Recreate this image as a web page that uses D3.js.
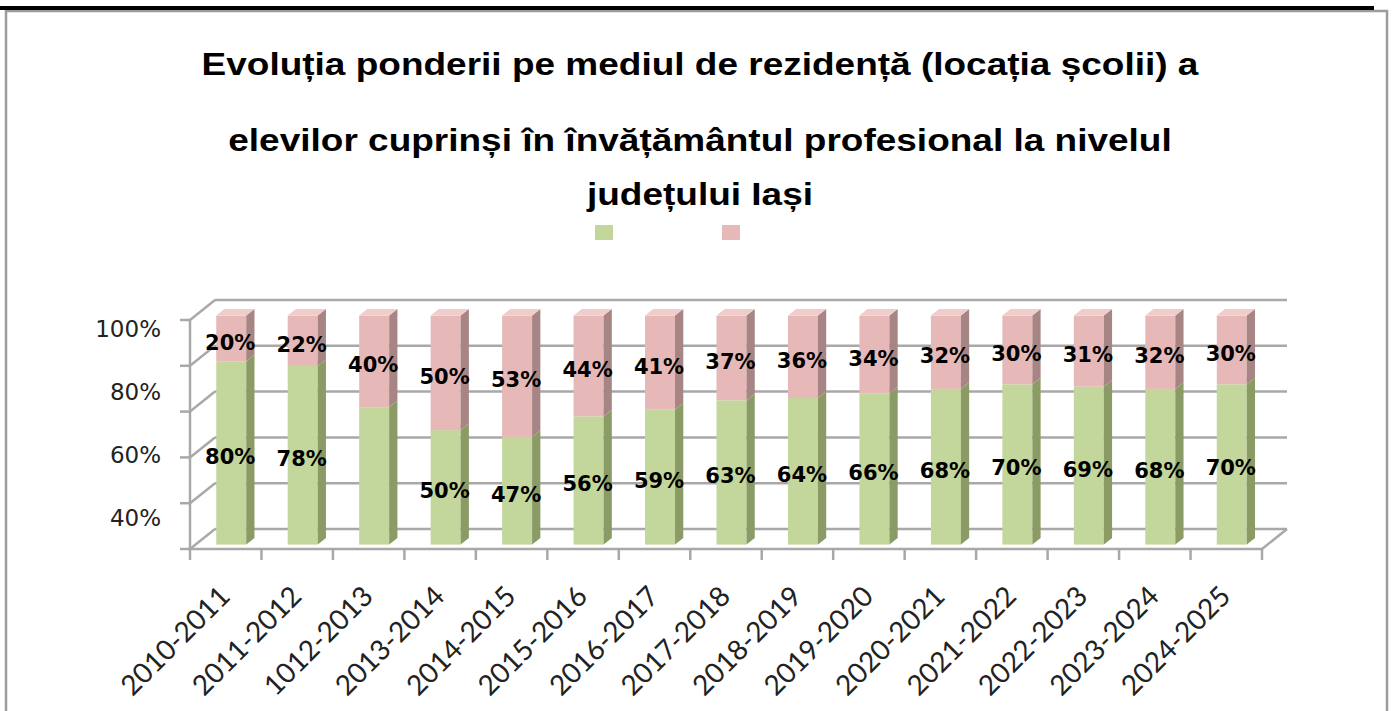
<!DOCTYPE html>
<html>
<head>
<meta charset="utf-8">
<title>Evolutia ponderii</title>
<script src="https://cdnjs.cloudflare.com/ajax/libs/d3/7.8.5/d3.min.js"></script>
<style>
	body { margin: 0; background: #fff; }
	svg { display: block; }
	.title { font-family: "Liberation Sans", Arial, sans-serif; font-weight: bold; font-size: 37px; fill: #000; }
	.ylab { font-family: "DejaVu Sans", Verdana, sans-serif; font-size: 23px; fill: #222; }
	.xlab { font-family: Lato, "Open Sans", sans-serif; font-size: 28px; fill: #222; }
	.dlab { font-family: "DejaVu Sans", Verdana, sans-serif; font-weight: bold; font-size: 21px; fill: #000; }
</style>
</head>
<body>
<svg width="1392" height="711"></svg>
<script>

// data
var categories = ["2010-2011", "2011-2012", "1012-2013", "2013-2014", "2014-2015", "2015-2016", "2016-2017",
	"2017-2018", "2018-2019", "2019-2020", "2020-2021", "2021-2022", "2022-2023", "2023-2024", "2024-2025"];
var share1 = [80, 78, 60, 50, 47, 56, 59, 63, 64, 66, 68, 70, 69, 68, 70];   // green, bottom
var share2 = [20, 22, 40, 50, 53, 44, 41, 37, 36, 34, 32, 30, 31, 32, 30];   // pink, top
var share1NoLabel = ["1012-2013"];   // the reference shows no label there
var gridValues = [0, 20, 40, 60, 80, 100];
var yTickLabels = [40, 60, 80, 100];
var titleLines = ["Evoluția ponderii pe mediul de rezidență (locația școlii) a",
	"elevilor cuprinși în învățământul profesional la nivelul",
	"județului Iași"];

var svg = d3.select("svg");

// frame
svg.append("rect").attr("x", 6).attr("y", 11).attr("width", 1381).attr("height", 720)
	.style("fill", "none").style("stroke", "#9c9c9c").style("stroke-width", 2.5);
svg.append("line").attr("x1", 0).attr("x2", 1374).attr("y1", 8).attr("y2", 8)
	.style("stroke", "#000").style("stroke-width", 4);

// title (glyphs in the picture are a bit flatter than the font)
var titleY = [75, 151, 205];
svg.selectAll(".title").data(titleLines).enter()
	.append("text").attr("class", "title")
	.attr("transform", function (d, i) { return "translate(700," + titleY[i] + ") scale(1,0.85)"; })
	.attr("text-anchor", "middle")
	.text(function (d) { return d; });

// legend (series have no names)
svg.selectAll(".leg").data(["#c3d69b", "#e6b9b8"]).enter()
	.append("rect")
	.attr("x", function (d, i) { return 595 + i * 127; })
	.attr("y", 225).attr("width", 18).attr("height", 15)
	.style("fill", function (d) { return d; });

// 3d-ish scales
var DX = 25, DY = -20;   // depth offset of back wall
var x = d3.scaleBand().domain(categories).range([190, 1262]);
var y = d3.scaleLinear().domain([0, 100]).range([549, 320]);
var yLab = d3.scaleLinear().domain([40, 100]).range([518, 329]);
var bw = x.bandwidth();
var barW = 30;
var z0 = 0.22, z1 = 0.55;

var grid = svg.append("g").style("stroke", "#a8a8a8").style("stroke-width", 2.5).style("fill", "none");

// back wall gridlines + left wall
gridValues.forEach(function (v) {
	grid.append("line")
		.attr("x1", 190 + DX).attr("x2", 1262 + DX)
		.attr("y1", y(v) + DY).attr("y2", y(v) + DY);
	grid.append("line")
		.attr("x1", 190).attr("x2", 190 + DX)
		.attr("y1", y(v)).attr("y2", y(v) + DY);
	grid.append("line")
		.attr("x1", 180).attr("x2", 190)
		.attr("y1", y(v)).attr("y2", y(v));
});
// front axis + floor
grid.append("line").attr("x1", 190).attr("x2", 190).attr("y1", y(0)).attr("y2", y(100));
grid.append("line").attr("x1", 188).attr("x2", 1262).attr("y1", y(0)).attr("y2", y(0));
grid.append("line").attr("x1", 1262).attr("x2", 1262 + DX).attr("y1", y(0)).attr("y2", y(0) + DY);
// category ticks
var tickX = categories.map(function (c) { return x(c); }).concat([x.range()[1]]);
grid.selectAll(".ct").data(tickX).enter()
	.append("line")
	.attr("x1", function (d) { return d; }).attr("x2", function (d) { return d; })
	.attr("y1", y(0)).attr("y2", y(0) + 11);

// bars
function box(g, c, v0, v1, cFront, cSide, cTop) {
	var xl = x(c) + (bw - barW) / 2 + z0 * DX;
	var xr = xl + barW;
	var yb = y(v0) + z0 * DY, yt = y(v1) + z0 * DY;
	var dx = (z1 - z0) * DX, dy = (z1 - z0) * DY;
	g.append("rect").attr("x", xl).attr("y", yt).attr("width", barW).attr("height", yb - yt)
		.style("fill", cFront);
	g.append("path")
		.attr("d", "M" + xr + "," + yb + "L" + (xr + dx) + "," + (yb + dy) + "L" + (xr + dx) + "," + (yt + dy) + "L" + xr + "," + yt + "Z")
		.style("fill", cSide);
	g.append("path")
		.attr("d", "M" + xl + "," + yt + "L" + xr + "," + yt + "L" + (xr + dx) + "," + (yt + dy) + "L" + (xl + dx) + "," + (yt + dy) + "Z")
		.style("fill", cTop);
	return { cx: (xl + xr) / 2, cy: (yb + yt) / 2 };
}

var bars = svg.append("g");
var labels = [];
categories.forEach(function (c, i) {
	var g = bars.append("g");
	var a = box(g, c, 0, share1[i], "#c3d69b", "#8a9b66", "#d3e2b4");
	var b = box(g, c, share1[i], share1[i] + share2[i], "#e6b9b8", "#a68584", "#f0cccb");
	if (share1NoLabel.indexOf(c) < 0) labels.push({ x: a.cx, y: a.cy, t: share1[i] + "%" });
	labels.push({ x: b.cx, y: b.cy, t: share2[i] + "%" });
});

svg.selectAll(".dlab").data(labels).enter()
	.append("text").attr("class", "dlab")
	.attr("x", function (d) { return d.x - 1; })
	.attr("y", function (d) { return d.y + 4; })
	.attr("text-anchor", "middle").attr("dominant-baseline", "central")
	.text(function (d) { return d.t; });

// y labels
svg.selectAll(".ylab").data(yTickLabels).enter()
	.append("text").attr("class", "ylab")
	.attr("x", 161).attr("y", function (d) { return yLab(d); })
	.attr("text-anchor", "end").attr("dominant-baseline", "central")
	.text(function (d) { return d + "%"; });

// x labels
svg.selectAll(".xlab").data(categories).enter()
	.append("text").attr("class", "xlab")
	.attr("text-anchor", "end")
	.attr("transform", function (d) { return "translate(" + (x(d) + bw / 2 + 6) + ",598) rotate(-45)"; })
	.text(function (d) { return d; });

</script>
</body>
</html>
